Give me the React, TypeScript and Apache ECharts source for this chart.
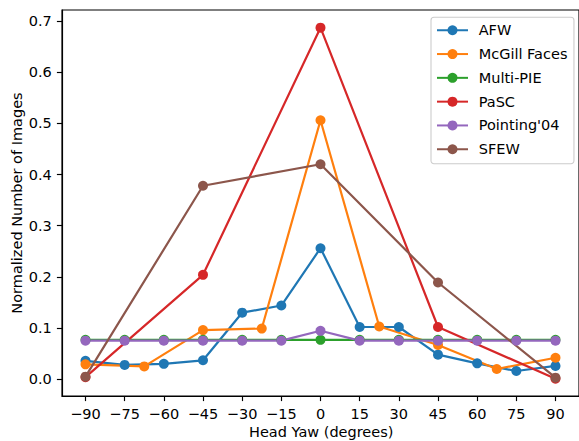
import React, { useEffect, useRef } from "react";
import * as echarts from "echarts";

const yawAll = [-90, -75, -60, -45, -30, -15, 0, 15, 30, 45, 60, 75, 90];
const yawHalf = [-90, -67.5, -45, -22.5, 0, 22.5, 45, 67.5, 90];
const yawCoarse = [-90, -45, 0, 45, 90];

const afw = [0.036, 0.028, 0.030, 0.037, 0.130, 0.144, 0.256, 0.102, 0.102, 0.048, 0.031, 0.016, 0.026];
const mcgill = [0.029, 0.025, 0.096, 0.099, 0.506, 0.103, 0.067, 0.020, 0.042];
const multiPie = [0.0769, 0.0769, 0.0769, 0.0769, 0.0769, 0.0769, 0.0769, 0.0769, 0.0769, 0.0769, 0.0769, 0.0769, 0.0769];
const pasc = [0.004, 0.204, 0.687, 0.102, 0.001];
const pointing = [0.0753, 0.0753, 0.0753, 0.0753, 0.0753, 0.0753, 0.0946, 0.0753, 0.0753, 0.0753, 0.0753, 0.0753, 0.0753];
const sfew = [0.005, 0.378, 0.420, 0.189, 0.003];

const xTicks = [-90, -75, -60, -45, -30, -15, 0, 15, 30, 45, 60, 75, 90];
const yTicks = [0, 0.1, 0.2, 0.3, 0.4, 0.5, 0.6, 0.7];

const seriesDefs = [
  { name: "AFW", x: yawAll, y: afw, color: "#1f77b4" },
  { name: "McGill Faces", x: yawHalf, y: mcgill, color: "#ff7f0e" },
  { name: "Multi-PIE", x: yawAll, y: multiPie, color: "#2ca02c" },
  { name: "PaSC", x: yawCoarse, y: pasc, color: "#d62728" },
  { name: "Pointing'04", x: yawAll, y: pointing, color: "#9467bd" },
  { name: "SFEW", x: yawCoarse, y: sfew, color: "#8c564b" },
];

const FONT = "DejaVu Sans";
const FS = 14.5;

export default function App() {
  const ref = useRef<HTMLDivElement>(null);
  useEffect(() => {
    if (!ref.current) return;
    const chart = echarts.init(ref.current, undefined, { renderer: "svg" });
    const axisCommon = {
      axisLine: { show: true, onZero: false, lineStyle: { color: "#000", width: 1.16 } },
      axisTick: { show: true, length: 5.1, lineStyle: { color: "#000", width: 1.16 } },
      splitLine: { show: false },
    };
    chart.setOption({
      animation: false,
      grid: {
        left: 62,
        top: 10,
        width: 518.4,
        height: 386,
        show: true,
        borderColor: "#000",
        borderWidth: 1.16,
        backgroundColor: "transparent",
      },
      xAxis: {
        type: "value",
        min: -99,
        max: 99,
        ...axisCommon,
        axisTick: { ...axisCommon.axisTick, customValues: xTicks },
        axisLabel: {
          customValues: xTicks,
          margin: 10.2,
          color: "#000",
          fontFamily: FONT,
          fontSize: FS,
          formatter: (v: number) => String(v).replace("-", "\u2212"),
        },
      },
      yAxis: {
        type: "value",
        min: -0.0328,
        max: 0.7215,
        ...axisCommon,
        axisTick: { ...axisCommon.axisTick, customValues: yTicks },
        axisLabel: {
          customValues: yTicks,
          margin: 10.2,
          color: "#000",
          fontFamily: FONT,
          fontSize: FS,
          formatter: (v: number) => v.toFixed(1),
        },
      },
      legend: {
        orient: "vertical",
        left: 431,
        top: 17.3,
        itemWidth: 31,
        itemHeight: 12.5,
        itemGap: 8.8,
        padding: [5.45, 6.5, 7.05, 5],
        backgroundColor: "rgba(255,255,255,0.8)",
        borderColor: "#cccccc",
        borderWidth: 1.1,
        borderRadius: 3,
        textStyle: { color: "#000", fontFamily: FONT, fontSize: FS, padding: [0, 0, 0, 5.7] },
        data: seriesDefs.map((s) => s.name),
      },
      graphic: [
        {
          type: "text",
          x: 321.2,
          y: 432,
          style: {
            text: "Head Yaw (degrees)",
            font: `${FS}px "${FONT}"`,
            fill: "#000",
            textAlign: "center",
            textVerticalAlign: "middle",
          },
        },
        {
          type: "text",
          x: 17,
          y: 203,
          rotation: Math.PI / 2,
          style: {
            text: "Normalized Number of Images",
            font: `${FS}px "${FONT}"`,
            fill: "#000",
            textAlign: "center",
            textVerticalAlign: "middle",
          },
        },
      ],
      series: seriesDefs.map((s) => ({
        name: s.name,
        type: "line",
        data: s.x.map((xv, i) => [xv, s.y[i]]),
        symbol: "circle",
        symbolSize: 10,
        showSymbol: true,
        lineStyle: { color: s.color, width: 2.2 },
        itemStyle: { color: s.color },
        emphasis: { disabled: true },
        clip: false,
      })),
    });
    return () => chart.dispose();
  }, []);
  return (
    <div
      ref={ref}
      style={{ position: "absolute", left: 0, top: 0, width: 579, height: 441 }}
    />
  );
}
